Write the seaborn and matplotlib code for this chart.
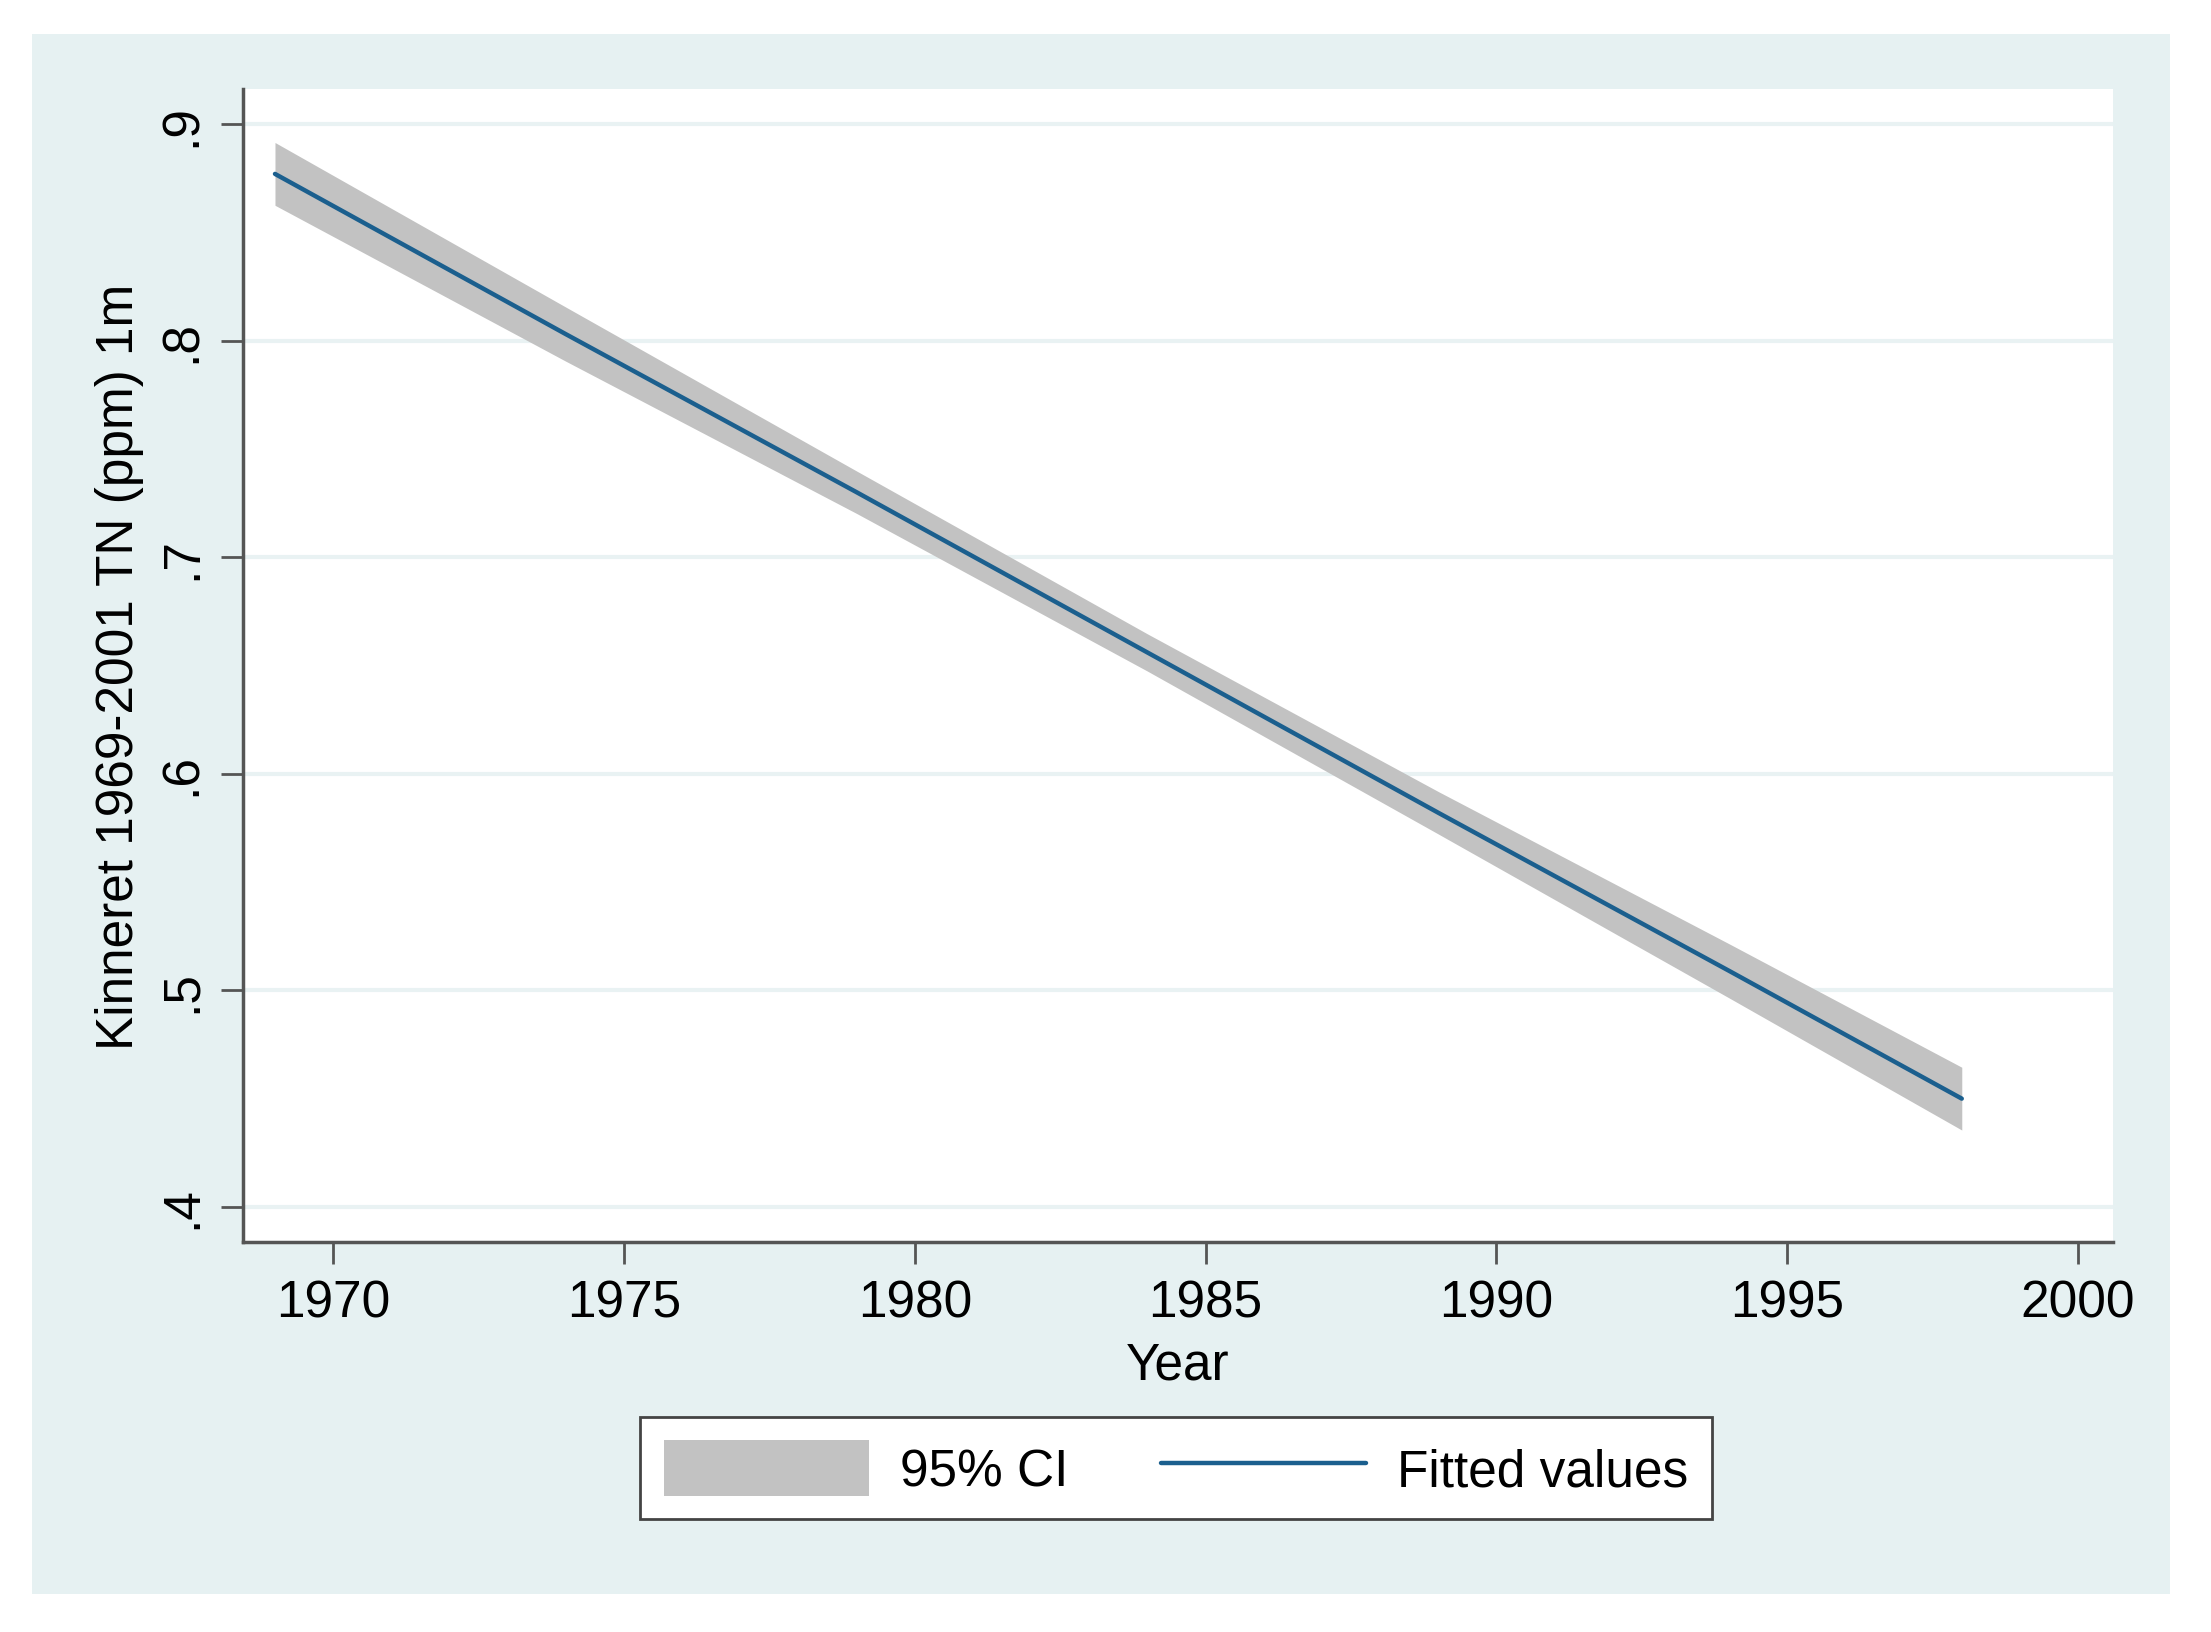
import matplotlib
matplotlib.use("Agg")
import matplotlib.pyplot as plt
from matplotlib.patches import Rectangle, Patch
from matplotlib.lines import Line2D
import seaborn as sns
import pandas as pd

# values
years = [1969, 1974, 1979, 1984, 1989, 1994, 1998]
fitted = [0.877, 0.803, 0.730, 0.656, 0.582, 0.509, 0.450]
ci_low = [0.8625, 0.7905, 0.7202, 0.6474, 0.5722, 0.4965, 0.4355]
ci_high = [0.8915, 0.8155, 0.7398, 0.6646, 0.5918, 0.5215, 0.4645]
x_ticks = [1970, 1975, 1980, 1985, 1990, 1995, 2000]
y_ticks = [0.4, 0.5, 0.6, 0.7, 0.8, 0.9]
y_labels = [".4", ".5", ".6", ".7", ".8", ".9"]

df = pd.DataFrame({"Year": years, "fit": fitted, "lo": ci_low, "hi": ci_high})

sns.set_style("white")
plt.rcParams["font.family"] = ["Liberation Sans", "DejaVu Sans"]
plt.rcParams["text.color"] = "black"
plt.rcParams["axes.labelcolor"] = "black"
plt.rcParams["xtick.color"] = "black"
plt.rcParams["ytick.color"] = "black"

panel = "#e6f1f2"
grid_c = "#e9f2f3"
line_c = "#1b5f8e"
ci_c = "#c2c2c2"
spine_c = "#555555"

fig = plt.figure(figsize=(22.11, 16.33), dpi=100)
fig.patch.set_facecolor("white")
bg = Rectangle((32 / 2211, 1 - 1595 / 1633), (2170 - 32) / 2211, (1595 - 35) / 1633,
               transform=fig.transFigure, facecolor=panel, edgecolor="none", zorder=-10)
fig.patches.append(bg)

ax = fig.add_axes([243 / 2211, 1 - 1243 / 1633, (2113 - 243) / 2211, (1243 - 90) / 1633])
ax.set_zorder(2)
ax.set_facecolor("white")

ax.fill_between(df["Year"], df["lo"], df["hi"], color=ci_c, linewidth=0, zorder=2)
sns.lineplot(data=df, x="Year", y="fit", ax=ax, color=line_c, linewidth=3.2, zorder=3)

ax.set_xlim(1968.45, 2000.6)
ax.set_ylim(0.3838, 0.9162)
ax.set_xticks(x_ticks)
ax.set_xticklabels([str(t) for t in x_ticks])
ax.set_yticks(y_ticks)
ax.set_yticklabels(y_labels)
for y in y_ticks:
    ax.axhline(y, color=grid_c, linewidth=3, zorder=1)

fs = 37
ax.tick_params(axis="both", which="major", labelsize=fs, length=16, width=2,
               color=spine_c, labelcolor="black", direction="out", pad=10, left=True, bottom=True)
ax.tick_params(axis="y", labelrotation=90)
for lab in ax.get_yticklabels():
    lab.set_va("center")

for s in ["top", "right"]:
    ax.spines[s].set_visible(False)
for s in ["left", "bottom"]:
    ax.spines[s].set_color(spine_c)
    ax.spines[s].set_linewidth(2.5)

ax.set_xlabel("Year", fontsize=fs, labelpad=10, color="black")
ax.set_ylabel("Kinneret 1969-2001 TN (ppm) 1m", fontsize=fs, labelpad=10, color="black")

handles = [Patch(facecolor=ci_c, edgecolor="none", label="95% CI"),
           Line2D([0], [0], color=line_c, linewidth=3.2, label="Fitted values")]
leg = fig.legend(handles=handles, loc="center", bbox_to_anchor=(1176 / 2211, 1 - 1469 / 1633),
                 ncol=2, fontsize=fs, frameon=True, fancybox=False, handlelength=4.0,
                 handleheight=1.3, handletextpad=0.6, columnspacing=1.8, borderpad=0.45)
leg.set_zorder(5)
leg.get_frame().set_edgecolor("#444444")
leg.get_frame().set_linewidth(2)
leg.get_frame().set_facecolor("white")
leg.get_frame().set_alpha(1)
for t in leg.get_texts():
    t.set_color("black")

fig.savefig("out.png", dpi=100, facecolor=fig.get_facecolor())
